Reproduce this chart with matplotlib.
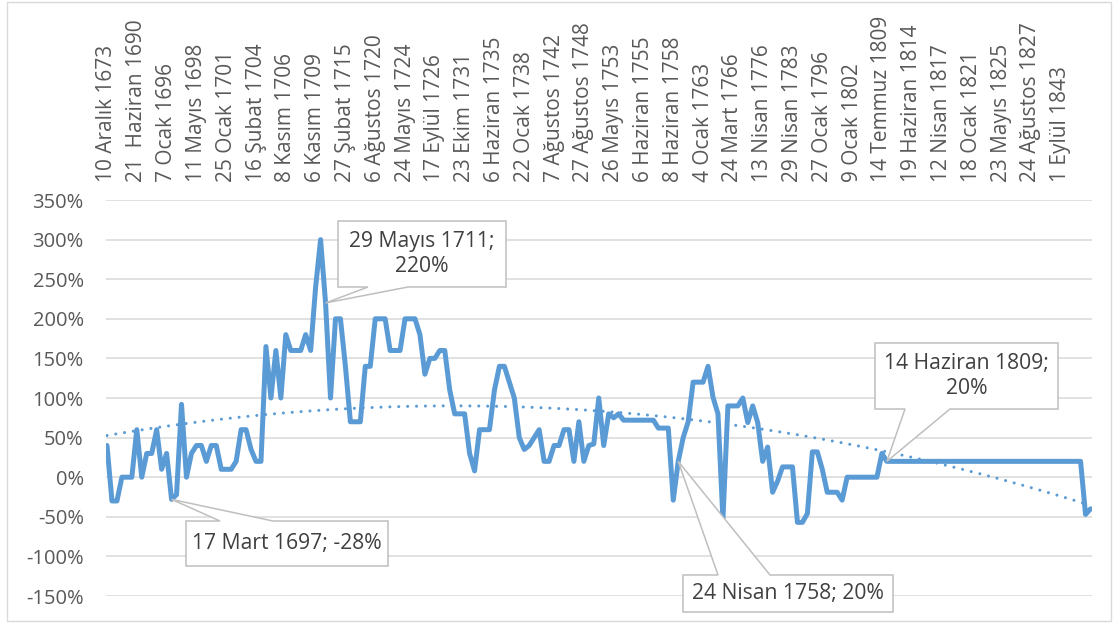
import numpy as np
import matplotlib
matplotlib.use("Agg")
import matplotlib.pyplot as plt
from matplotlib.patches import Polygon, Rectangle

plt.rcParams['font.family'] = ['Open Sans', 'DejaVu Sans']

# ---------------- data ----------------
tick_labels = [
    "10 Aralık 1673", "21  Haziran 1690", "7 Ocak 1696", "11 Mayıs 1698",
    "25 Ocak 1701", "16 Şubat 1704", "8 Kasım 1706", "6 Kasım 1709",
    "27 Şubat 1715", "6 Ağustos 1720", "24 Mayıs 1724", "17 Eylül 1726",
    "23 Ekim 1731", "6 Haziran 1735", "22 Ocak 1738", "7 Ağustos 1742",
    "27 Ağustos 1748", "26 Mayıs 1753", "6 Haziran 1755", "8 Haziran 1758",
    "4 Ocak 1763", "24 Mart 1766", "13 Nisan 1776", "29 Nisan 1783",
    "27 Ocak 1796", "9 Ocak 1802", "14 Temmuz 1809", "19 Haziran 1814",
    "12 Nisan 1817", "18 Ocak 1821", "23 Mayıs 1825", "24 Ağustos 1827",
    "1 Eylül 1843",
]
label_step = 6  # one tick label every 6 categories

# percent change values, one per category
values = [
    40, -30, -30, 0, 0, 0, 60, 0, 30, 30,
    60, 10, 30, -28, -22, 92, 0, 30, 40, 40,
    20, 40, 40, 10, 10, 10, 20, 60, 60, 35,
    20, 20, 165, 100, 160, 100, 180, 160, 160, 160,
    180, 160, 240, 300, 220, 100, 200, 200, 140, 70,
    70, 70, 140, 140, 200, 200, 200, 160, 160, 160,
    200, 200, 200, 180, 130, 150, 150, 160, 160, 110,
    80, 80, 80, 30, 8, 60, 60, 60, 110, 140,
    140, 120, 100, 50, 35, 40, 50, 60, 20, 20,
    40, 40, 60, 60, 20, 70, 20, 40, 42, 100,
    40, 80, 75, 80, 72, 72, 72, 72, 72, 72,
    72, 62, 62, 62, -29, 20, 50, 70, 120, 120,
    120, 140, 101, 80, -53, 90, 90, 90, 100, 69,
    90, 69, 20, 38, -19, -5, 13, 13, 13, -57,
    -57, -46, 32, 32, 10, -19, -19, -19, -29, 0,
    0, 0, 0, 0, 0, 0, 30, 20, 20, 20,
    20, 20, 20, 20, 20, 20, 20, 20, 20, 20,
    20, 20, 20, 20, 20, 20, 20, 20, 20, 20,
    20, 20, 20, 20, 20, 20, 20, 20, 20, 20,
    20, 20, 20, 20, 20, 20, 20, -47, -40,
]

# labelled points: (category index, label text)
callout_idx = [13, 44, 115, 157]
callout_text = ["17 Mart 1697; -28%", "29 Mayıs 1711;\n220%",
                "24 Nisan 1758; 20%", "14 Haziran 1809;\n20%"]

y_ticks = [-150, -100, -50, 0, 50, 100, 150, 200, 250, 300, 350]

# ---------------- figure ----------------
W, H = 1113, 624
fig = plt.figure(figsize=(W / 100, H / 100), dpi=100)
fig.patch.set_facecolor("white")

ax_left, ax_right, ax_top, ax_bottom = 106, 1091.5, 200, 596
ax = fig.add_axes([ax_left / W, 1 - ax_bottom / H,
                   (ax_right - ax_left) / W, (ax_bottom - ax_top) / H])

line_color = "#5b9bd5"
x = np.arange(len(values))
y = np.array(values, dtype=float)

ax.plot(x, y, color=line_color, lw=3.6, solid_joinstyle="round",
        solid_capstyle="round", zorder=3)

# polynomial trend line (order 2) fitted to the series
coef = np.polyfit(x, y, 2)
ax.plot(x, np.polyval(coef, x), color=line_color, lw=2.2,
        linestyle=(0, (0.01, 2.9)), dash_capstyle="round", zorder=2)

ax.set_xlim(-0.2, len(values) - 1 + 0.2)
ax.set_ylim(-150, 350)
ax.set_yticks(y_ticks)
ax.set_yticklabels([f"{v}%" for v in y_ticks])
ax.yaxis.grid(True, color="#d9d9d9", lw=1.1)
ax.set_axisbelow(True)

tick_pos = [i * label_step for i in range(len(tick_labels))]
ax.set_xticks(tick_pos)
ax.set_xticklabels(tick_labels)
ax.xaxis.tick_top()
ax.tick_params(axis="x", length=0, pad=13, labelrotation=90,
               labelsize=15, colors="#595959")
ax.tick_params(axis="y", length=0, pad=16, labelsize=14.5, colors="#595959")
for s in ax.spines.values():
    s.set_visible(False)

# ---------------- callouts ----------------
def px2fig(px, py):
    return (px / W, 1 - py / H)

fig.canvas.draw()
# box geometry in pixels: (x0, y0, x1, y1, base_x0, base_x1, side)
boxes = [
    (186, 521, 388, 566, 220, 273, "top"),
    (338, 221, 506, 287, 368, 408, "bottom"),
    (683, 575, 893, 612, 718, 770, "top"),
    (875, 343, 1058, 409, 905, 950, "bottom"),
]
for (x0, y0, x1, y1, b0, b1, side), idx, txt in zip(boxes, callout_idx, callout_text):
    dx, dy = ax.transData.transform((idx, values[idx]))
    tip = (dx, H - dy)
    if side == "bottom":
        pts = [(x0, y0), (x1, y0), (x1, y1), (b1, y1), tip, (b0, y1), (x0, y1)]
    else:
        pts = [(x0, y0), (b0, y0), tip, (b1, y0), (x1, y0), (x1, y1), (x0, y1)]
    poly = Polygon([px2fig(*p) for p in pts], closed=True, transform=fig.transFigure,
                   facecolor="white", edgecolor="#bfbfbf", lw=1.1, zorder=10)
    fig.patches.append(poly)
    cx, cy = px2fig((x0 + x1) / 2, (y0 + y1) / 2)
    fig.text(cx, cy, txt, ha="center", va="center", fontsize=15.2,
             color="#404040", linespacing=1.3, zorder=11)

# chart area border
fig.patches.append(Rectangle((7 / W, 3 / H), (W - 9) / W, (H - 5) / H,
                             transform=fig.transFigure, fill=False,
                             edgecolor="#d9d9d9", lw=1.0, zorder=0))

fig.savefig("out.png", dpi=100)
